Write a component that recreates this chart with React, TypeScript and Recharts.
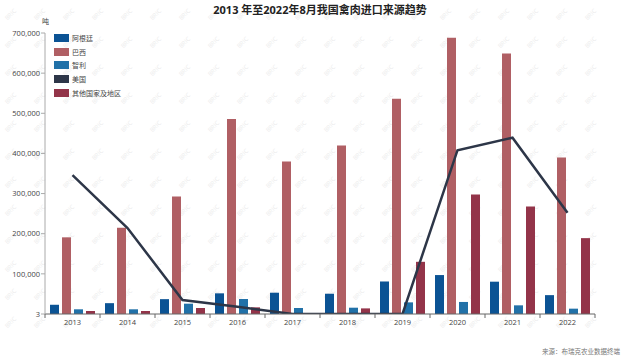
import React from "react";
import {
  ComposedChart,
  Bar,
  Line,
  XAxis,
  YAxis,
} from "recharts";

const years = ["2013", "2014", "2015", "2016", "2017", "2018", "2019", "2020", "2021", "2022"];
const argentina = [23000, 27000, 37000, 51500, 53000, 50500, 81000, 97000, 80500, 47000];
const brazil = [191000, 215000, 293000, 486000, 380000, 420000, 536000, 688000, 649000, 390000];
const chile = [11700, 11700, 25700, 37400, 15000, 15700, 29000, 30000, 21600, 13300];
const usa = [346000, 214000, 35000, 18000, 3, 3, 3, 408000, 439000, 252000];
const others = [7500, 7500, 15000, 16600, 3, 14000, 130000, 298000, 268000, 189000];
const yTicks = [3, 100000, 200000, 300000, 400000, 500000, 600000, 700000];

const series = [
  { key: "阿根廷", color: "#0b5394" },
  { key: "巴西", color: "#b05f64" },
  { key: "智利", color: "#2171a8" },
  { key: "美国", color: "#2d3648" },
  { key: "其他国家及地区", color: "#933449" },
];

const data = years.map((y, i) => ({
  year: y,
  阿根廷: argentina[i],
  巴西: brazil[i],
  智利: chile[i],
  美国: usa[i],
  其他国家及地区: others[i],
}));

const FONT = "'Open Sans', 'Noto Sans CJK SC', sans-serif";
const BAND = 55;

const XTick = (props: any) => {
  const { x, y, payload, index } = props;
  return (
    <g>
      <line x1={x - BAND / 2} y1={y - 8} x2={x - BAND / 2} y2={y - 4} stroke="#666" />
      {index === years.length - 1 && (
        <line x1={x + BAND / 2} y1={y - 8} x2={x + BAND / 2} y2={y - 4} stroke="#666" />
      )}
      <text x={x} y={y + 3} textAnchor="middle" fontSize={7.5} fill="#444" fontFamily={FONT}>
        {payload.value}
      </text>
    </g>
  );
};

const LegendBox = () => (
  <div style={{ position: "absolute", left: 54, top: 31, fontFamily: FONT, fontSize: 7, color: "#444" }}>
    {series.map((s) => (
      <div key={s.key} style={{ display: "flex", alignItems: "center", height: 13.7 }}>
        <span style={{ width: 15, height: 8, background: s.color, marginRight: 3, display: "inline-block" }} />
        {s.key}
      </div>
    ))}
  </div>
);

const Watermark = () => {
  const marks = [];
  for (let r = 0; r < 12; r++) {
    for (let c = 0; c < 21; c++) {
      const x = 12 + c * 29;
      const y = 16 + r * 28;
      marks.push(
        <text
          key={r + "-" + c}
          x={x}
          y={y}
          fontSize={6}
          fill="#ececec"
          fontFamily={FONT}
          transform={`rotate(-45 ${x} ${y})`}
          textAnchor="middle"
        >
          BRIC
        </text>
      );
    }
  }
  return (
    <svg width={640} height={360} style={{ position: "absolute", left: 0, top: 0 }}>
      {marks}
    </svg>
  );
};

export default function App() {
  return (
    <div style={{ position: "absolute", left: 0, top: 0, width: 640, height: 360, background: "#fff", fontFamily: FONT }}>
      <Watermark />
      <div
        style={{
          position: "absolute",
          top: 1,
          width: 640,
          textAlign: "center",
          fontSize: 11,
          fontWeight: "bold",
          color: "#222",
        }}
      >
        2013 年至2022年8月我国禽肉进口来源趋势
      </div>
      <div style={{ position: "absolute", left: 42, top: 16, fontSize: 7, color: "#444" }}>吨</div>
      <div style={{ position: "absolute", right: 20, top: 346, fontSize: 6.5, color: "#777" }}>
        来源：布瑞克农业数据终端
      </div>
      <div style={{ position: "absolute", left: 0, top: 0 }}>
        <ComposedChart
          width={640}
          height={360}
          data={data}
          margin={{ top: 33, right: 45, bottom: 26, left: 0 }}
          barSize={9}
          barGap={3}
        >
          <XAxis
            dataKey="year"
            height={20}
            stroke="#666"
            tickLine={false}
            tick={<XTick />}
            interval={0}
          />
          <YAxis
            width={45}
            domain={[3, 700000]}
            ticks={yTicks}
            type="number"
            allowDataOverflow
            stroke="#aaa"
            tickSize={4}
            tickMargin={1}
            tick={{ fontSize: 7.5, fill: "#444", fontFamily: FONT }}
            tickFormatter={(v: number) => v.toLocaleString("en-US")}
          />
          <Bar dataKey="阿根廷" fill={series[0].color} isAnimationActive={false} />
          <Bar dataKey="巴西" fill={series[1].color} isAnimationActive={false} />
          <Bar dataKey="智利" fill={series[2].color} isAnimationActive={false} />
          <Bar dataKey="其他国家及地区" fill={series[4].color} isAnimationActive={false} />
          <Line
            dataKey="美国"
            type="linear"
            stroke={series[3].color}
            strokeWidth={2.5}
            dot={false}
            activeDot={false}
            isAnimationActive={false}
          />
        </ComposedChart>
      </div>
      <LegendBox />
    </div>
  );
}
